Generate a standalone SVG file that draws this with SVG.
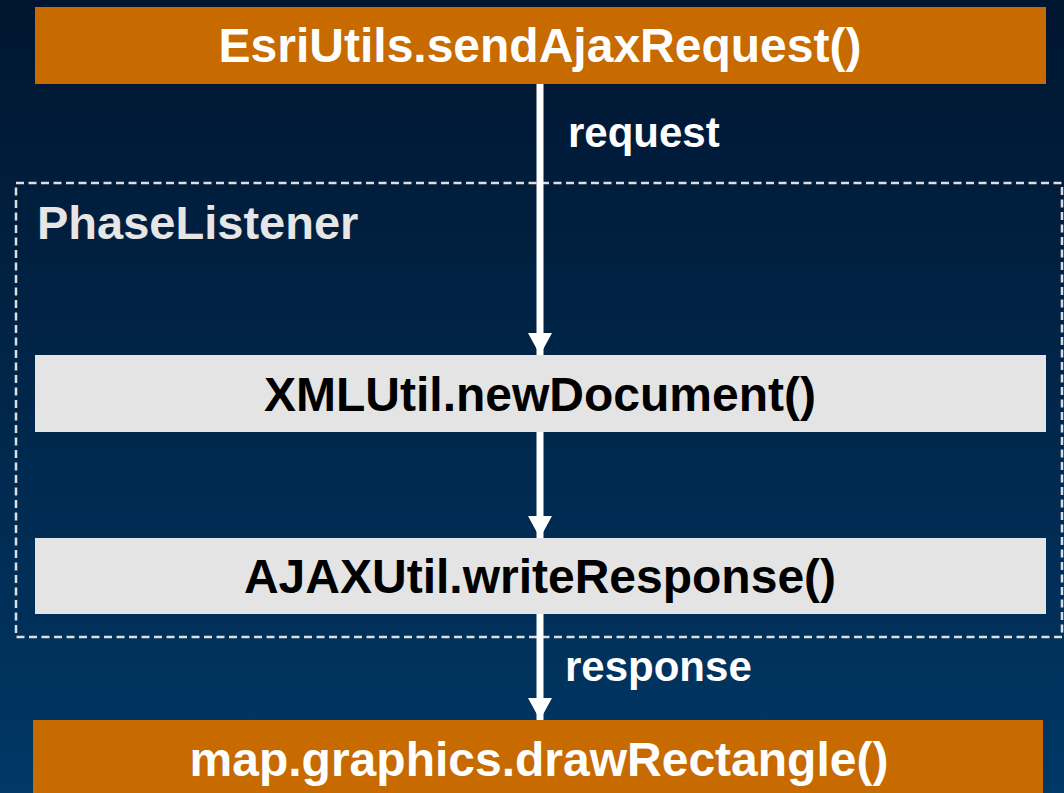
<svg xmlns="http://www.w3.org/2000/svg" width="1064" height="793" viewBox="0 0 1064 793">
  <defs>
    <linearGradient id="bg" x1="0" y1="0" x2="0" y2="1">
      <stop offset="0" stop-color="#00152f"/>
      <stop offset="1" stop-color="#003866"/>
    </linearGradient>
    <marker id="ah" markerUnits="userSpaceOnUse" markerWidth="22" markerHeight="24" viewBox="0 0 22 24" refX="22" refY="12" orient="auto">
      <path d="M0,0 L22,12 L0,24 Z" fill="#ffffff"/>
    </marker>
    <style>
      .orange { fill: #c76a00; }
      .grey { fill: #e4e4e4; }
      .btxt { font-family: "Liberation Sans", Arial, sans-serif; font-weight: bold; font-size: 48px; text-anchor: middle; }
      .wt { fill: #ffffff; }
      .kt { fill: #000000; }
      .lbl { font-family: "Liberation Sans", Arial, sans-serif; font-weight: bold; font-size: 42px; fill: #ffffff; }
      .conn { stroke: #ffffff; stroke-width: 7; fill: none; marker-end: url(#ah); }
      .group { fill: none; stroke: #dedede; stroke-width: 2.5; stroke-dasharray: 8 4.5; }
    </style>
  </defs>
  <rect x="0" y="0" width="1064" height="793" fill="url(#bg)"/>

  <g id="phaselistener">
    <rect class="group" x="16" y="183" width="1046" height="454"/>
    <text x="37" y="239" font-family="Liberation Sans, Arial, sans-serif" font-weight="bold" font-size="47" fill="#e6e6e6">PhaseListener</text>
  </g>

  <g id="connectors">
    <line class="conn" x1="540" y1="84" x2="540" y2="355"/>
    <line class="conn" x1="540" y1="432" x2="540" y2="538"/>
    <line class="conn" x1="540" y1="614" x2="540" y2="720"/>
    <text class="lbl" x="568" y="147">request</text>
    <text class="lbl" x="565" y="681">response</text>
  </g>

  <g id="sendAjaxRequest">
    <rect class="orange" x="35" y="7" width="1011" height="77"/>
    <text class="btxt wt" x="540" y="62">EsriUtils.sendAjaxRequest()</text>
  </g>

  <g id="newDocument">
    <rect class="grey" x="35" y="355" width="1011" height="77"/>
    <text class="btxt kt" x="540" y="411">XMLUtil.newDocument()</text>
  </g>

  <g id="writeResponse">
    <rect class="grey" x="35" y="538" width="1011" height="76"/>
    <text class="btxt kt" x="540" y="593">AJAXUtil.writeResponse()</text>
  </g>

  <g id="drawRectangle">
    <rect class="orange" x="33" y="720" width="1010" height="80"/>
    <text class="btxt wt" x="539" y="776">map.graphics.drawRectangle()</text>
  </g>
</svg>
